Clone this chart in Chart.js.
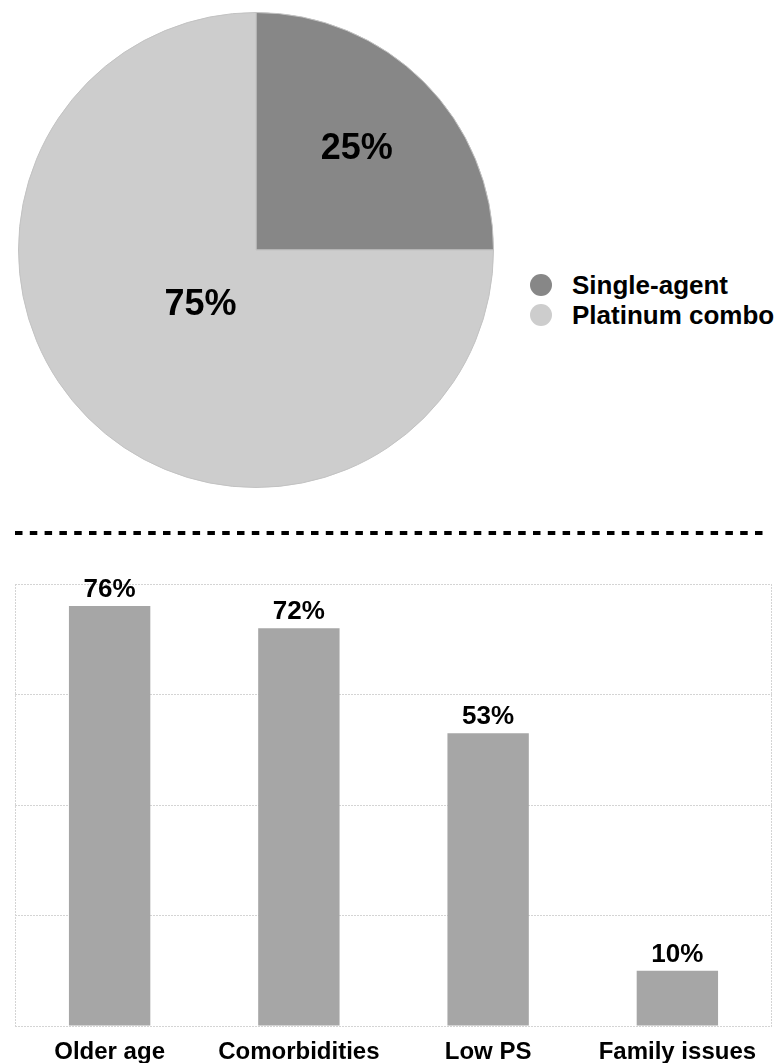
<!DOCTYPE html>
<html>
<head>
<meta charset="utf-8">
<script src="https://cdn.jsdelivr.net/npm/chart.js@4/dist/chart.umd.min.js"></script>
<style>
  html, body { margin: 0; padding: 0; background: #fff; }
  body { width: 784px; height: 1063px; position: relative; overflow: hidden;
         font-family: "Liberation Sans", Arial, sans-serif; }
  #pieWrap { position: absolute; left: 0; top: 0; width: 512px; height: 500px; }
  #barWrap { position: absolute; left: 0; top: 560px; width: 784px; height: 503px; }
  #legend { position: absolute; left: 530px; top: 270px; font-weight: bold; font-size: 26px; color: #000; }
  .li { position: relative; height: 30px; line-height: 30px; padding-left: 42px; white-space: nowrap; }
  .dot { position: absolute; left: 0px; top: 4px; width: 22px; height: 22px; border-radius: 50%; }
  #sep { position: absolute; left: 0; top: 520px; }
</style>
</head>
<body>
<div id="pieWrap"><canvas id="pie" width="512" height="500"></canvas></div>
<div id="legend"></div>
<svg id="sep" width="784" height="30"><line x1="15" y1="13" x2="768" y2="13" stroke="#000" stroke-width="4" stroke-dasharray="7.5 7.3"/></svg>
<div id="barWrap"><canvas id="bar" width="784" height="503"></canvas></div>
<script>
// ---- Data ----
const pieLabels = ["Single-agent", "Platinum combo"];
const pieValues = [25, 75];
const pieColors = ["#878787", "#cdcdcd"];

const barCategories = ["Older age", "Comorbidities", "Low PS", "Family issues"];
const barValues = [76, 72, 53, 10];
const barTicks = [0, 20, 40, 60, 80];

// ---- Legend (HTML) ----
const legend = document.getElementById('legend');
pieLabels.forEach((l, i) => {
  const d = document.createElement('div');
  d.className = 'li';
  d.innerHTML = '<span class="dot" style="background:' + pieColors[i] + '"></span>' + l;
  legend.appendChild(d);
});

// ---- Pie ----
const pieLabelRadius = [0.60, 0.33];
const pieLabelPlugin = {
  id: 'pieLabels',
  afterDatasetsDraw(chart) {
    const ctx = chart.ctx;
    const meta = chart.getDatasetMeta(0);
    ctx.save();
    ctx.font = 'bold 36px "Liberation Sans", Arial, sans-serif';
    ctx.fillStyle = '#000';
    ctx.textAlign = 'center';
    ctx.textBaseline = 'middle';
    meta.data.forEach((arc, i) => {
      const p = arc.getProps(['x', 'y', 'startAngle', 'endAngle', 'outerRadius'], true);
      const mid = (p.startAngle + p.endAngle) / 2;
      const r = p.outerRadius * pieLabelRadius[i];
      ctx.fillText(pieValues[i] + '%', p.x + Math.cos(mid) * r, p.y + Math.sin(mid) * r);
    });
    ctx.restore();
  }
};

new Chart(document.getElementById('pie'), {
  type: 'pie',
  data: {
    labels: pieLabels,
    datasets: [{
      data: pieValues,
      backgroundColor: pieColors,
      borderColor: '#c2c2c2',
      borderWidth: 1
    }]
  },
  options: {
    responsive: false,
    animation: false,
    layout: { padding: { left: 18, right: 18, top: 12, bottom: 12 } },
    plugins: { legend: { display: false }, tooltip: { enabled: false } }
  },
  plugins: [pieLabelPlugin]
});

// ---- Bar ----
const barLabelPlugin = {
  id: 'barLabels',
  afterDatasetsDraw(chart) {
    const ctx = chart.ctx;
    const meta = chart.getDatasetMeta(0);
    ctx.save();
    ctx.font = 'bold 26px "Liberation Sans", Arial, sans-serif';
    ctx.fillStyle = '#000';
    ctx.textAlign = 'center';
    ctx.textBaseline = 'middle';
    meta.data.forEach((bar, i) => {
      ctx.fillText(barValues[i] + '%', bar.x, bar.y - 16);
    });
    ctx.restore();
  }
};
const framePlugin = {
  id: 'frame',
  beforeDatasetsDraw(chart) {
    const a = chart.chartArea, ctx = chart.ctx;
    ctx.save();
    ctx.strokeStyle = '#d4d4d4';
    ctx.lineWidth = 1;
    ctx.setLineDash([2, 1]);
    ctx.beginPath();
    ctx.moveTo(Math.round(a.left) + 0.5, a.top);
    ctx.lineTo(Math.round(a.left) + 0.5, a.bottom);
    ctx.moveTo(Math.round(a.right) - 0.5, a.top);
    ctx.lineTo(Math.round(a.right) - 0.5, a.bottom);
    ctx.stroke();
    ctx.restore();
  }
};

new Chart(document.getElementById('bar'), {
  type: 'bar',
  data: {
    labels: barCategories,
    datasets: [{
      data: barValues,
      backgroundColor: '#a6a6a6',
      borderWidth: 0,
      categoryPercentage: 1.0,
      barPercentage: 0.43
    }]
  },
  options: {
    responsive: false,
    animation: false,
    layout: { padding: { left: 15, right: 12, top: 24, bottom: 0 } },
    plugins: { legend: { display: false }, tooltip: { enabled: false } },
    scales: {
      x: {
        grid: { display: false, drawTicks: false },
        border: { display: false },
        ticks: {
          color: '#000',
          padding: 12,
          maxRotation: 0,
          autoSkip: false,
          font: { family: '"Liberation Sans", Arial, sans-serif', size: 24, weight: 'bold' }
        },
        afterFit: s => { s.height = 37; }
      },
      y: {
        min: barTicks[0],
        max: barTicks[barTicks.length - 1],
        afterBuildTicks: s => { s.ticks = barTicks.map(v => ({ value: v })); },
        ticks: { display: false },
        grid: { color: '#d4d4d4', drawTicks: false, lineWidth: 1 },
        border: { display: false, dash: [2, 1] },
        afterFit: s => { s.width = 0; }
      }
    }
  },
  plugins: [framePlugin, barLabelPlugin]
});
</script>
</body>
</html>
